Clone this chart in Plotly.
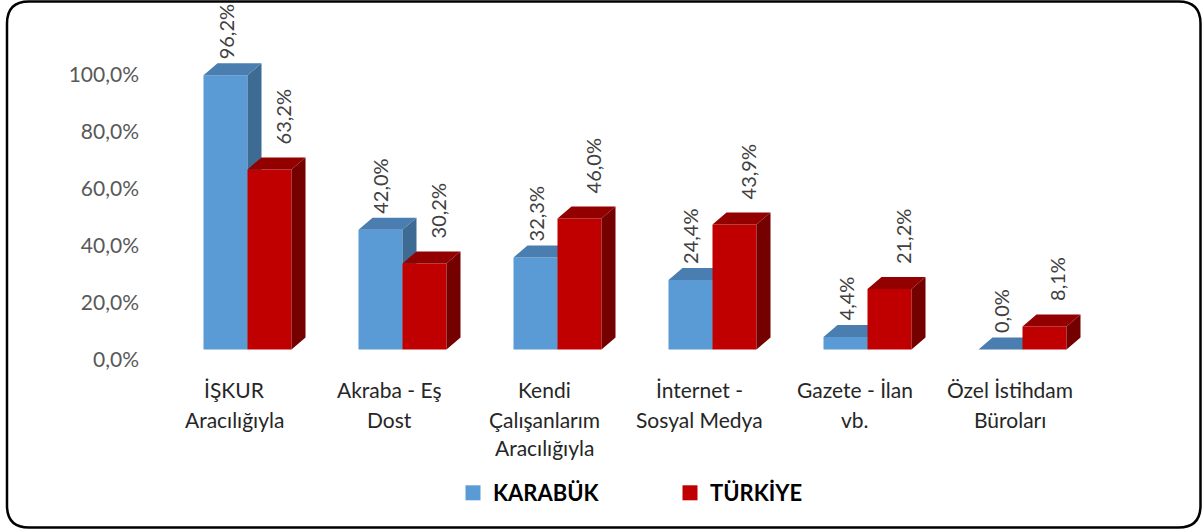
import plotly.graph_objects as go

# ---------------- data ----------------
categories = [
    "İŞKUR<br>Aracılığıyla",
    "Akraba - Eş<br>Dost",
    "Kendi<br>Çalışanlarım<br>Aracılığıyla",
    "İnternet -<br>Sosyal Medya",
    "Gazete - İlan<br>vb.",
    "Özel İstihdam<br>Büroları",
]
karabuk = [96.2, 42.0, 32.3, 24.4, 4.4, 0.0]
turkiye = [63.2, 30.2, 46.0, 43.9, 21.2, 8.1]
series_names = ["KARABÜK", "TÜRKİYE"]
y_ticks = [0, 20, 40, 60, 80, 100]
y_tick_labels = ["0,0%", "20,0%", "40,0%", "60,0%", "80,0%", "100,0%"]

# ---------------- styling ----------------
W, H = 1202, 529
ML, MR, MT, MB = 170, 102, 10, 169
PW, PH = W - ML - MR, H - MT - MB
PX_PER_CAT = PW / 6.0
PX_PER_UNIT = 2.85
BAR_W = 44 / PX_PER_CAT
DX = 14 / PX_PER_CAT
DY = 12 / PX_PER_UNIT
FONT = "Lato"

colors = {
    "KARABÜK": dict(front="#5B9BD5", side="#3E6B94", top="#4A7DB0"),
    "TÜRKİYE": dict(front="#C00000", side="#740000", top="#920000"),
}

def px_to_paper_x(px):
    return (px - ML) / PW

def px_to_paper_y(py):
    return (MT + PH - py) / PH

bar_base_px = 349.5
lab_base_px = 359.5
y_bar_range = [(bar_base_px - (MT + PH)) / PX_PER_UNIT, (bar_base_px - MT) / PX_PER_UNIT]
y_lab_range = [(lab_base_px - (MT + PH)) / PX_PER_UNIT, (lab_base_px - MT) / PX_PER_UNIT]


def faces(values, offset):
    fx, fy, sx, sy, tx, ty = [], [], [], [], [], []
    for i, v in enumerate(values):
        xl = i + offset
        xr = xl + BAR_W
        fx += [xl, xr, xr, xl, xl, None]
        fy += [0, 0, v, v, 0, None]
        sx += [xr, xr + DX, xr + DX, xr, xr, None]
        sy += [0, DY, v + DY, v, 0, None]
        tx += [xl, xr, xr + DX, xl + DX, xl, None]
        ty += [v, v, v + DY, v + DY, v, None]
    return (fx, fy), (sx, sy), (tx, ty)


fig = go.Figure()
for name, vals, off in [(series_names[0], karabuk, -BAR_W), (series_names[1], turkiye, 0.0)]:
    front, side, top = faces(vals, off)
    for (xs, ys), key in [(front, "front"), (side, "side"), (top, "top")]:
        fig.add_trace(go.Scatter(
            x=xs, y=ys, mode="lines", fill="toself",
            fillcolor=colors[name][key], line=dict(width=0, color=colors[name][key]),
            hoverinfo="skip", showlegend=False,
        ))

for name in series_names:
    fig.add_trace(go.Scatter(
        x=[None], y=[None], mode="markers", name=name,
        marker=dict(symbol="square", size=15, color=colors[name]["front"]),
    ))

fig.add_trace(go.Scatter(x=[None], y=[None], yaxis="y2", showlegend=False, hoverinfo="skip"))

annotations = []
for name, vals, off, xsh, ysh in [(series_names[0], karabuk, -BAR_W, 0, 14),
                                  (series_names[1], turkiye, 0.0, 13, 23)]:
    for i, v in enumerate(vals):
        annotations.append(dict(
            x=i + off + BAR_W / 2, y=v, xref="x", yref="y",
            text=f"{v:.1f}".replace(".", ",") + "%",
            textangle=-90, showarrow=False, xanchor="center", yanchor="bottom",
            xshift=xsh, yshift=ysh,
            font=dict(family=FONT, size=20, color="#404040"),
        ))

for i, cat in enumerate(categories):
    for j, line in enumerate(cat.split("<br>")):
        annotations.append(dict(
            x=i - 13 / PX_PER_CAT, xref="x",
            y=px_to_paper_y(390 + 29 * j), yref="paper",
            text=line, showarrow=False, xanchor="center", yanchor="middle",
            font=dict(family=FONT, size=21, color="#262626"),
        ))

x0, x1 = px_to_paper_x(7), px_to_paper_x(1200.5)
y0, y1 = px_to_paper_y(527.5), px_to_paper_y(1.5)
rx, ry = 22 / PW, 22 / PH
path = (
    f"M {x0 + rx},{y1} L {x1 - rx},{y1} Q {x1},{y1} {x1},{y1 - ry} "
    f"L {x1},{y0 + ry} Q {x1},{y0} {x1 - rx},{y0} "
    f"L {x0 + rx},{y0} Q {x0},{y0} {x0},{y0 + ry} "
    f"L {x0},{y1 - ry} Q {x0},{y1} {x0 + rx},{y1} Z"
)

fig.update_layout(
    width=W, height=H,
    margin=dict(l=ML, r=MR, t=MT, b=MB),
    paper_bgcolor="white", plot_bgcolor="white",
    xaxis=dict(range=[-0.5, 5.5], showticklabels=False, showgrid=False,
               zeroline=False, showline=False, fixedrange=True),
    yaxis=dict(range=y_bar_range, visible=False, showgrid=False, zeroline=False),
    yaxis2=dict(range=y_lab_range, overlaying="y", side="left",
                tickvals=y_ticks, ticktext=y_tick_labels,
                showgrid=False, zeroline=False, showline=False, ticks="",
                ticklabelstandoff=30,
                tickfont=dict(family=FONT, size=21, color="#595959")),
    showlegend=True,
    legend=dict(orientation="h", x=px_to_paper_x(453), xanchor="left",
                y=px_to_paper_y(493), yanchor="middle",
                entrywidth=172, entrywidthmode="pixels",
                font=dict(family=FONT, size=22, color="#000000", weight="bold"),
                bgcolor="rgba(0,0,0,0)", itemclick=False),
    annotations=annotations,
    shapes=[dict(type="path", path=path, xref="paper", yref="paper",
                 line=dict(color="black", width=2.5), layer="above")],
)

fig.write_html("out.html", config={"displayModeBar": False},
               post_script="document.body.style.margin='0';")
